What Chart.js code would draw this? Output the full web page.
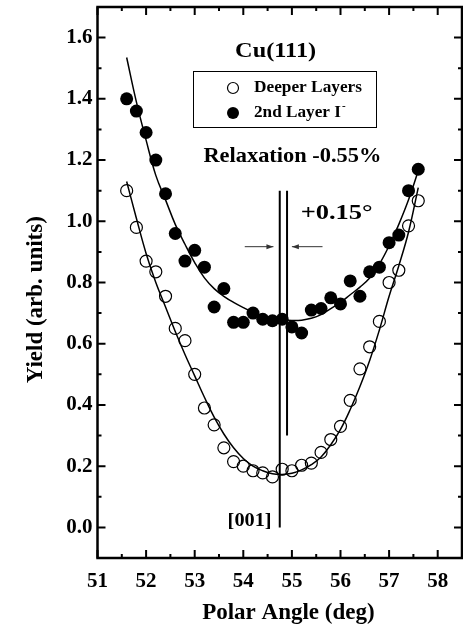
<!DOCTYPE html>
<html>
<head>
<meta charset="utf-8">
<script src="https://cdn.jsdelivr.net/npm/chart.js@4/dist/chart.umd.min.js"></script>
<style>
  html, body { margin: 0; padding: 0; background: #fff; overflow: hidden; }
  #wrap { width: 463px; height: 635px; position: relative; }
  canvas { display: block; }
</style>
</head>
<body>
<div id="wrap"><canvas id="yieldChart"></canvas></div>
<script>
// polar angles of the scan (deg)
const angles = [51.6, 51.8, 52.0, 52.2, 52.4, 52.6, 52.8, 53.0, 53.2, 53.4, 53.6, 53.8, 54.0, 54.2, 54.4, 54.6,
    54.8, 55.0, 55.2, 55.4, 55.6, 55.8, 56.0, 56.2, 56.4, 56.6, 56.8, 57.0, 57.2, 57.4, 57.6]

// measured yields
const secondLayer = [1.40, 1.36, 1.29, 1.20, 1.09, 0.96, 0.87, 0.905, 0.85, 0.72, 0.78, 0.67, 0.67, 0.70, 0.68, 0.675,
    0.68, 0.655, 0.635, 0.71, 0.715, 0.75, 0.73, 0.805, 0.755, 0.835, 0.85, 0.93, 0.955, 1.10, 1.17]
const deeperLayers = [1.10, 0.98, 0.87, 0.835, 0.755, 0.65, 0.61, 0.50, 0.39, 0.335, 0.26, 0.215, 0.20, 0.185, 0.178, 0.165,
    0.19, 0.185, 0.203, 0.21, 0.245, 0.287, 0.33, 0.415, 0.518, 0.59, 0.673, 0.80, 0.84, 0.985, 1.067]

// fitted curves
const secondFit = [1.535, 1.39, 1.265, 1.15, 1.07, 0.99, 0.925, 0.865, 0.815, 0.78, 0.755, 0.735, 0.718, 0.703, 0.692, 0.683,
    0.678, 0.676, 0.677, 0.683, 0.695, 0.715, 0.735, 0.76, 0.785, 0.815, 0.86, 0.92, 0.99, 1.07, 1.165]
const deeperFit = [1.13, 1.01, 0.895, 0.80, 0.72, 0.64, 0.565, 0.495, 0.425, 0.36, 0.305, 0.26, 0.225, 0.20, 0.185, 0.175,
    0.173, 0.177, 0.188, 0.205, 0.23, 0.27, 0.32, 0.385, 0.46, 0.545, 0.645, 0.755, 0.855, 0.965, 1.11]

// [001] direction and shifted minimum
const dir001 = [{x: 54.75, y: 0}, {x: 54.75, y: 1.10}]
const dirShift = [{x: 54.90, y: 0.30}, {x: 54.90, y: 1.10}]

// tick labels
const xTicks = [51, 52, 53, 54, 55, 56, 57, 58]
const yTicks = [0.0, 0.2, 0.4, 0.6, 0.8, 1.0, 1.2, 1.4, 1.6]

const serif = "'Liberation Serif', 'Times New Roman', serif"

function pts(ys) {
    return angles.map((a, i) => ({x: a, y: ys[i]}))
}

// draw text squeezed/stretched to a given width (the original uses a wide bold face)
function wideText(ctx, text, x, y, width, size, align) {
    ctx.save()
    ctx.font = 'bold ' + size + 'px ' + serif
    const k = width / ctx.measureText(text).width
    const left = align === 'center' ? x - width / 2 : x
    ctx.translate(left, y)
    ctx.scale(k, 1)
    ctx.textAlign = 'left'
    ctx.textBaseline = 'middle'
    ctx.fillText(text, 0, 0)
    ctx.restore()
}

const framePlugin = {
    id: 'frame',
    afterDraw(chart) {
        const ctx = chart.ctx
        const a = chart.chartArea
        const xs = chart.scales.x
        const ys = chart.scales.y
        ctx.save()
        ctx.strokeStyle = '#000'

        // inward ticks on all four sides
        ctx.lineWidth = 2
        for (let k = 0; k <= 14; k++) {
            const px = xs.getPixelForValue(51 + k / 2)
            const len = k % 2 === 0 ? 8 : 4
            ctx.beginPath()
            ctx.moveTo(px, a.bottom); ctx.lineTo(px, a.bottom - len)
            ctx.moveTo(px, a.top); ctx.lineTo(px, a.top + len)
            ctx.stroke()
        }
        for (let k = 0; k <= 16; k++) {
            const py = ys.getPixelForValue(k / 10)
            const len = k % 2 === 0 ? 8 : 4
            ctx.beginPath()
            ctx.moveTo(a.left, py); ctx.lineTo(a.left + len, py)
            ctx.moveTo(a.right, py); ctx.lineTo(a.right - len, py)
            ctx.stroke()
        }

        ctx.lineWidth = 2.5
        ctx.strokeRect(a.left, a.top, a.right - a.left, a.bottom - a.top)

        // arrows pointing at the two lines
        const ay = ys.getPixelForValue(0.917)
        function arrow(x0, x1) {
            const p0 = xs.getPixelForValue(x0)
            const p1 = xs.getPixelForValue(x1)
            const d = p1 > p0 ? 1 : -1
            ctx.strokeStyle = '#333'
            ctx.fillStyle = '#333'
            ctx.lineWidth = 1
            ctx.beginPath(); ctx.moveTo(p0, ay); ctx.lineTo(p1, ay); ctx.stroke()
            ctx.beginPath()
            ctx.moveTo(p1, ay); ctx.lineTo(p1 - d * 7, ay - 2.5); ctx.lineTo(p1 - d * 7, ay + 2.5)
            ctx.closePath(); ctx.fill()
        }
        arrow(54.03, 54.62)
        arrow(55.63, 55.0)

        // texts
        ctx.fillStyle = '#000'
        wideText(ctx, 'Cu(111)', xs.getPixelForValue(54.665), ys.getPixelForValue(1.553), 81, 21, 'center')
        wideText(ctx, 'Relaxation -0.55%', xs.getPixelForValue(55.01), ys.getPixelForValue(1.21), 178, 21, 'center')
        wideText(ctx, '+0.15°', xs.getPixelForValue(55.18), ys.getPixelForValue(1.024), 72, 21, 'left')
        wideText(ctx, '[001]', xs.getPixelForValue(54.13), ys.getPixelForValue(0.02), 44, 19, 'center')

        // legend box
        ctx.lineWidth = 1
        ctx.strokeStyle = '#000'
        ctx.strokeRect(193.5, 71.5, 183, 56)
        ctx.beginPath(); ctx.arc(233, 88, 5.5, 0, Math.PI * 2); ctx.lineWidth = 1.2; ctx.stroke()
        ctx.beginPath(); ctx.arc(233, 113, 6, 0, Math.PI * 2); ctx.fill()
        wideText(ctx, 'Deeper Layers', 254, 88, 108, 17, 'left')
        wideText(ctx, '2nd Layer I', 254, 113, 87, 17, 'left')
        ctx.font = 'bold 11px ' + serif
        ctx.textAlign = 'left'
        ctx.textBaseline = 'middle'
        ctx.fillText('-', 342, 106)
        ctx.restore()
    }
}

new Chart(document.getElementById('yieldChart'), {
    type: 'scatter',
    data: {
        datasets: [{
            label: '2nd Layer I-',
            data: pts(secondLayer),
            pointRadius: 6.5,
            pointBackgroundColor: '#000',
            pointBorderColor: '#000',
            pointBorderWidth: 0
        }, {
            label: 'Deeper Layers',
            data: pts(deeperLayers),
            pointRadius: 6,
            pointBackgroundColor: 'rgba(0,0,0,0)',
            pointBorderColor: '#000',
            pointBorderWidth: 1.2
        }, {
            label: 'fit 2nd',
            data: pts(secondFit),
            showLine: true,
            pointRadius: 0,
            borderColor: '#000',
            borderWidth: 1.5,
            tension: 0.4
        }, {
            label: 'fit deeper',
            data: pts(deeperFit),
            showLine: true,
            pointRadius: 0,
            borderColor: '#000',
            borderWidth: 1.5,
            tension: 0.4
        }, {
            label: '[001]',
            data: dir001,
            showLine: true,
            pointRadius: 0,
            borderColor: '#000',
            borderWidth: 2
        }, {
            label: 'shift',
            data: dirShift,
            showLine: true,
            pointRadius: 0,
            borderColor: '#000',
            borderWidth: 2
        }]
    },
    options: {
        responsive: true,
        maintainAspectRatio: false,
        animation: false,
        layout: {autoPadding: false, padding: {top: 7, right: 1, left: 0, bottom: 0}},
        plugins: {
            legend: {display: false},
            tooltip: {enabled: false}
        },
        scales: {
            x: {
                type: 'linear',
                min: 51,
                max: 58.5,
                afterFit: (s) => { s.height = 77; s.paddingLeft = 0; s.paddingRight = 0 },
                afterBuildTicks: (s) => { s.ticks = xTicks.map(v => ({value: v})) },
                grid: {display: false, drawTicks: false},
                border: {display: false},
                ticks: {
                    color: '#000',
                    padding: 11,
                    maxRotation: 0,
                    font: {family: serif, size: 21, weight: 'bold'},
                    callback: (v) => String(v)
                },
                title: {
                    display: true,
                    text: '   Polar Angle (deg)',
                    color: '#000',
                    padding: {top: 0, bottom: 8},
                    font: {family: serif, size: 23, weight: 'bold'}
                }
            },
            y: {
                min: -0.1,
                max: 1.7,
                afterFit: (s) => { s.width = 97.5; s.paddingTop = 0; s.paddingBottom = 0 },
                afterBuildTicks: (s) => { s.ticks = yTicks.map(v => ({value: v})) },
                grid: {display: false, drawTicks: false},
                border: {display: false},
                ticks: {
                    color: '#000',
                    padding: 5,
                    font: {family: serif, size: 21, weight: 'bold'},
                    callback: (v) => v.toFixed(1)
                },
                title: {
                    display: true,
                    text: 'Yield (arb. units)      ',
                    color: '#000',
                    padding: {top: 22, bottom: 0},
                    font: {family: serif, size: 23, weight: 'bold'}
                }
            }
        }
    },
    plugins: [framePlugin]
})
</script>
</body>
</html>
